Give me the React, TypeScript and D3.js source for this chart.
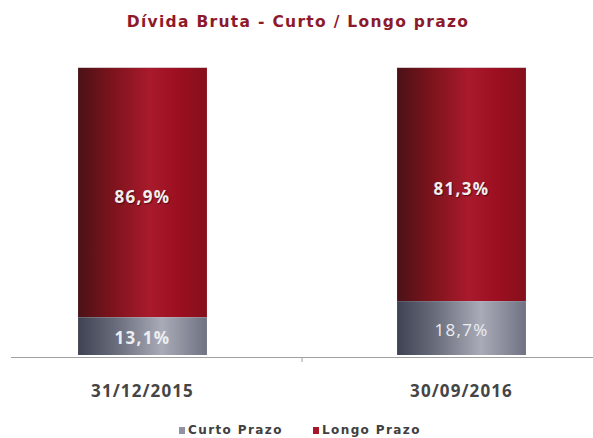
import React from "react";
import * as d3 from "d3";

const categories = ["31/12/2015", "30/09/2016"];
const curtoPrazo = [13.1, 18.7];
const longoPrazo = [86.9, 81.3];
const seriesNames = ["Curto Prazo", "Longo Prazo"];
const title = "Dívida Bruta - Curto / Longo prazo";

const W = 593;
const H = 438;

export default function App() {
  const x = d3
    .scaleBand<string>()
    .domain(categories)
    .range([-17, 621])
    .paddingInner(0.596)
    .paddingOuter(0.298);
  const y = d3.scaleLinear().domain([0, 100]).range([355, 67]);
  const bw = x.bandwidth();
  const fmt = (v: number) => v.toFixed(1).replace(".", ",") + "%";
  const tickX = (x(categories[0])! + bw + x(categories[1])!) / 2;

  return (
    <svg width={W} height={H} style={{ position: "absolute", left: 0, top: 0, background: "#fff" }}>
      <defs>
        <linearGradient id="gRed" x1="0" x2="1" y1="0" y2="0">
          <stop offset="0" stopColor="#4a1217" />
          <stop offset="0.25" stopColor="#7a131b" />
          <stop offset="0.55" stopColor="#a81a2c" />
          <stop offset="0.78" stopColor="#9c0f20" />
          <stop offset="1" stopColor="#85101c" />
        </linearGradient>
        <linearGradient id="gGray" x1="0" x2="1" y1="0" y2="0">
          <stop offset="0" stopColor="#3f4252" />
          <stop offset="0.3" stopColor="#6a6d7c" />
          <stop offset="0.65" stopColor="#a9abb7" />
          <stop offset="1" stopColor="#6f7282" />
        </linearGradient>
      </defs>
      <rect width={W} height={H} fill="#fff" />
      <text
        x={298}
        y={27}
        textAnchor="middle"
        fontFamily="DejaVu Sans, Verdana, sans-serif"
        fontWeight="bold"
        fontSize={15.5}
        letterSpacing={1.3}
        fill="#8c1a2c"
      >
        {title}
      </text>
      {categories.map((c, i) => {
        const x0 = x(c)!;
        const yC = y(curtoPrazo[i]);
        const yL = y(curtoPrazo[i] + longoPrazo[i]);
        return (
          <g key={c}>
            <rect x={x0} y={yL} width={bw} height={yC - yL} fill="url(#gRed)" />
            <rect x={x0} y={yC} width={bw} height={y(0) - yC} fill="url(#gGray)" />
            <line x1={x0} x2={x0 + bw} y1={yL + 0.5} y2={yL + 0.5} stroke="#d8c8cc" strokeWidth={1} />
            <text
              x={x0 + bw / 2}
              y={(yL + yC) / 2 + 11}
              textAnchor="middle"
              fontFamily="Open Sans, Lato, sans-serif"
              fontWeight="bold"
              fontSize={17}
              letterSpacing={1.3}
              fill="#f3eeee"
              style={{ textShadow: "1px 1px 1px rgba(0,0,0,0.5)" }}
            >
              {fmt(longoPrazo[i])}
            </text>
            <text
              x={x0 + bw / 2}
              y={(yC + y(0)) / 2 + 8}
              textAnchor="middle"
              fontFamily="Open Sans, Lato, sans-serif"
              fontWeight={i === 0 ? "bold" : "normal"}
              fontSize={17}
              letterSpacing={1.3}
              fill="#eceef2"
            >
              {fmt(curtoPrazo[i])}
            </text>
            <text
              x={x0 + bw / 2}
              y={397}
              textAnchor="middle"
              fontFamily="Open Sans, Lato, sans-serif"
              fontWeight="bold"
              fontSize={17}
              letterSpacing={1.1}
              fill="#454545"
            >
              {c}
            </text>
          </g>
        );
      })}
      <line x1={11} x2={593} y1={357.5} y2={357.5} stroke="#a0a0a0" strokeWidth={1} />
      <line x1={tickX} x2={tickX} y1={357} y2={362} stroke="#a0a0a0" strokeWidth={1} />
      <g fontFamily="DejaVu Sans, Verdana, sans-serif" fontSize={12} fontWeight="bold" fill="#404040">
        <rect x={179} y={427} width={6} height={7} fill="#8f93a3" />
        <text x={188} y={434} letterSpacing={1.4}>{seriesNames[0]}</text>
        <rect x={313} y={427} width={6} height={7} fill="#a8162a" />
        <text x={322} y={434} letterSpacing={1.4}>{seriesNames[1]}</text>
      </g>
    </svg>
  );
}
